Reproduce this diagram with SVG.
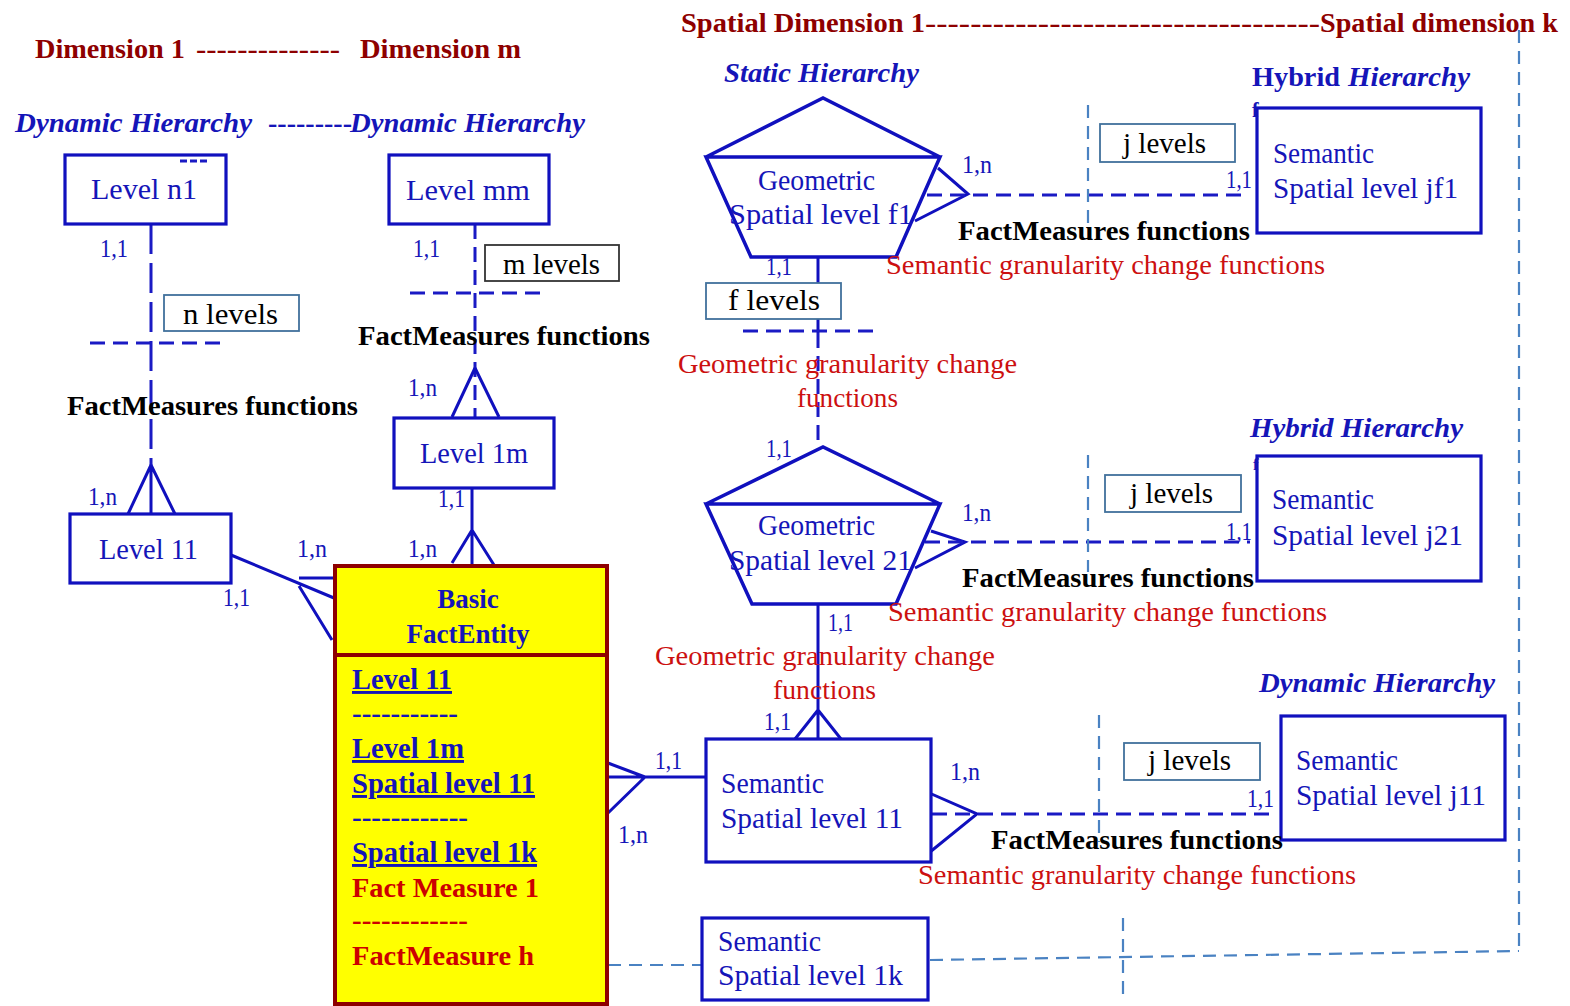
<svg xmlns="http://www.w3.org/2000/svg" width="1570" height="1006" viewBox="0 0 1570 1006">
  <style>
    text { font-family: "Liberation Serif", "Times New Roman", serif; }
    .box { fill: #ffffff; stroke: #1010BE; stroke-width: 3.2; }
    .geo { fill: #ffffff; stroke: #1010BE; stroke-width: 3.5; stroke-linejoin: miter; }
    .note { fill: #ffffff; stroke: #41719C; stroke-width: 1.8; }
    .noteK { fill: #ffffff; stroke: #333333; stroke-width: 1.8; }
    .solid { fill: none; stroke: #1010BE; stroke-width: 3; }
    .dash { fill: none; stroke: #1a1ac4; stroke-width: 3; stroke-dasharray: 15 8; }
    .dashL { fill: none; stroke: #1a1ac4; stroke-width: 3; stroke-dasharray: 30 9; }
    .steel { fill: none; stroke: #4A82C2; stroke-width: 2.2; stroke-dasharray: 13 8; }
    .title { font-size: 28px; font-weight: bold; fill: #8E0000; }
    .hier { font-size: 27px; font-weight: bold; font-style: italic; fill: #1515B8; }
    .hierN { font-style: normal; }
    .lvl { font-size: 29px; fill: #1515B8; }
    .card { font-size: 26px; fill: #1515B8; }
    .fm { font-size: 28px; font-weight: bold; fill: #000000; }
    .gran { font-size: 27px; fill: #CC1010; }
    .cnt { font-size: 29px; fill: #000000; }
    .fact { fill: #FFFF00; stroke: #8E0000; stroke-width: 4; }
    .fhead { font-size: 27px; font-weight: bold; fill: #1515B8; }
    .fkey { font-size: 29px; font-weight: bold; fill: #1515B8; text-decoration: underline; }
    .fmeas { font-size: 28px; font-weight: bold; fill: #CC0000; }
  </style>

  <!-- headings -->
  <g id="headings">
    <text class="title" y="58"><tspan x="35" textLength="150" lengthAdjust="spacingAndGlyphs">Dimension 1</tspan><tspan x="196" textLength="144" lengthAdjust="spacingAndGlyphs">--------------</tspan><tspan x="360" textLength="161" lengthAdjust="spacingAndGlyphs">Dimension m</tspan></text>
    <text class="title" y="32"><tspan x="681" textLength="244" lengthAdjust="spacingAndGlyphs">Spatial Dimension 1</tspan><tspan x="925" textLength="395" lengthAdjust="spacingAndGlyphs">-----------------------------------</tspan><tspan x="1320" textLength="238" lengthAdjust="spacingAndGlyphs">Spatial dimension k</tspan></text>
    <text class="hier" y="132"><tspan x="15" textLength="237" lengthAdjust="spacingAndGlyphs">Dynamic Hierarchy</tspan><tspan x="268" class="hierN" textLength="84" lengthAdjust="spacingAndGlyphs">---------</tspan><tspan x="350" textLength="235" lengthAdjust="spacingAndGlyphs">Dynamic Hierarchy</tspan></text>
    <text class="hier" x="724" y="82" textLength="195" lengthAdjust="spacingAndGlyphs">Static Hierarchy</text>
    <text class="hier" y="86"><tspan x="1252" class="hierN" textLength="88" lengthAdjust="spacingAndGlyphs">Hybrid</tspan><tspan x="1348" textLength="122" lengthAdjust="spacingAndGlyphs">Hierarchy</tspan></text>
    <text class="hier" x="1250" y="437" textLength="213" lengthAdjust="spacingAndGlyphs">Hybrid Hierarchy</text>
    <text class="hier" x="1259" y="692" textLength="236" lengthAdjust="spacingAndGlyphs">Dynamic Hierarchy</text>
  </g>

  <!-- connectors -->
  <g id="connectors">
    <!-- dimension 1 chain -->
    <path class="dashL" d="M151 224 V465"/>
    <path class="dash" d="M90 343 H226"/>
    <path class="solid" d="M151 465 V514 M151 465 L128 514 M151 465 L175 514"/>
    <path class="solid" d="M231 555 L334 598 M299 578 H334 M299 586 L332 640"/>
    <!-- dimension m chain -->
    <path class="dash" d="M475 224 V418"/>
    <path class="dash" d="M410 293 H546"/>
    <path class="solid" d="M475 368 L452 417 M475 368 L499 417"/>
    <path class="solid" d="M472 488 V565 M472 530 L452 563 M472 530 L494 565"/>
    <!-- spatial chain -->
    <path class="solid" d="M818 257 V333"/>
    <path class="dash" d="M818 333 V447"/>
    <path class="dash" d="M743 331 H878"/>
    <path class="solid" d="M818 604 V739 M818 710 L795 739 M818 710 L841 739"/>
    <path class="solid" d="M608 777 H705 M608 763 L645 777 M608 813 L645 777"/>
    <!-- fact measures links to the right -->
    <path class="solid" d="M938 168 L968 194 L915 221"/>
    <path class="dash" d="M927 195 H1249"/>
    <path class="solid" d="M931 531 L965 542 L915 568"/>
    <path class="dash" d="M925 542 H1250"/>
    <path class="solid" d="M927 792 L977 814 L930 852"/>
    <path class="dash" d="M932 814 H1275"/>
    <!-- level separators and dimension frame -->
    <path class="steel" d="M1088 105 V228"/>
    <path class="steel" d="M1088 455 V572"/>
    <path class="steel" d="M1099 715 V842"/>
    <path class="steel" d="M1519 30 V951"/>
    <path class="steel" d="M930 960 L1519 951"/>
    <path class="steel" d="M1123 918 V1002"/>
    <path class="steel" d="M608 965 H705"/>
  </g>

  <!-- dimension 1 nodes -->
  <g id="level-n1">
    <rect class="box" x="65" y="155" width="161" height="69"/>
    <path d="M180 161 H208" fill="none" stroke="#1a1ac4" stroke-width="3" stroke-dasharray="7 3"/>
    <text class="lvl" x="91" y="199" textLength="106" lengthAdjust="spacingAndGlyphs">Level  n1</text>
  </g>
  <g id="n-levels">
    <rect class="note" x="164" y="295" width="135" height="36"/>
    <text class="cnt" x="183" y="324" textLength="95" lengthAdjust="spacingAndGlyphs">n  levels</text>
  </g>
  <g id="level-11">
    <rect class="box" x="70" y="514" width="161" height="69"/>
    <text class="lvl" x="99" y="559" textLength="99" lengthAdjust="spacingAndGlyphs">Level 11</text>
  </g>

  <!-- dimension m nodes -->
  <g id="level-mm">
    <rect class="box" x="389" y="155" width="160" height="69"/>
    <text class="lvl" x="406" y="200" textLength="124" lengthAdjust="spacingAndGlyphs">Level  mm</text>
  </g>
  <g id="m-levels">
    <rect class="noteK" x="485" y="245" width="134" height="36"/>
    <text class="cnt" x="503" y="274" textLength="97" lengthAdjust="spacingAndGlyphs">m levels</text>
  </g>
  <g id="level-1m">
    <rect class="box" x="394" y="418" width="160" height="70"/>
    <text class="lvl" x="420" y="463" textLength="108" lengthAdjust="spacingAndGlyphs">Level 1m</text>
  </g>

  <!-- fact entity -->
  <g id="basic-fact-entity">
    <rect class="fact" x="335" y="566" width="272" height="438"/>
    <line x1="335" y1="655" x2="607" y2="655" stroke="#8E0000" stroke-width="4"/>
    <text class="fhead" x="468" y="608" text-anchor="middle">Basic</text>
    <text class="fhead" x="468" y="643" text-anchor="middle">FactEntity</text>
    <text class="fkey" x="352" y="689" textLength="100" lengthAdjust="spacingAndGlyphs">Level 11</text>
    <text class="fhead" x="352" y="722" textLength="106" lengthAdjust="spacingAndGlyphs">-----------</text>
    <text class="fkey" x="352" y="758" textLength="112" lengthAdjust="spacingAndGlyphs">Level 1m</text>
    <text class="fkey" x="352" y="793" textLength="183" lengthAdjust="spacingAndGlyphs">Spatial level 11</text>
    <text class="fhead" x="352" y="826" textLength="116" lengthAdjust="spacingAndGlyphs">------------</text>
    <text class="fkey" x="352" y="862" textLength="185" lengthAdjust="spacingAndGlyphs">Spatial level 1k</text>
    <text class="fmeas" x="352" y="897" textLength="187" lengthAdjust="spacingAndGlyphs">Fact Measure 1</text>
    <text class="fmeas" x="352" y="929" textLength="116" lengthAdjust="spacingAndGlyphs">------------</text>
    <text class="fmeas" x="352" y="965" textLength="182" lengthAdjust="spacingAndGlyphs">FactMeasure  h</text>
  </g>

  <!-- static hierarchy -->
  <g id="geometric-f1">
    <path class="geo" d="M706 157 L823 98 L940 157 Z M706 157 L940 157 L896 257 L751 257 Z"/>
    <text class="lvl" x="758" y="190" textLength="117" lengthAdjust="spacingAndGlyphs">Geometric</text>
    <text class="lvl" x="729" y="224" textLength="184" lengthAdjust="spacingAndGlyphs">Spatial  level  f1</text>
  </g>
  <g id="f-levels">
    <rect class="note" x="706" y="283" width="135" height="36"/>
    <text class="cnt" x="728" y="310" textLength="92" lengthAdjust="spacingAndGlyphs">f  levels</text>
  </g>
  <g id="geometric-21">
    <path class="geo" d="M706 504 L823 447 L940 504 Z M706 504 L940 504 L896 604 L752 604 Z"/>
    <text class="lvl" x="758" y="535" textLength="117" lengthAdjust="spacingAndGlyphs">Geometric</text>
    <text class="lvl" x="729" y="570" textLength="183" lengthAdjust="spacingAndGlyphs">Spatial   level 21</text>
  </g>
  <g id="semantic-11">
    <rect class="box" x="706" y="739" width="225" height="123"/>
    <text class="lvl" x="721" y="793" textLength="103" lengthAdjust="spacingAndGlyphs">Semantic</text>
    <text class="lvl" x="721" y="828" textLength="182" lengthAdjust="spacingAndGlyphs">Spatial level   11</text>
  </g>
  <g id="semantic-1k">
    <rect class="box" x="702" y="918" width="226" height="82"/>
    <text class="lvl" x="718" y="951" textLength="103" lengthAdjust="spacingAndGlyphs">Semantic</text>
    <text class="lvl" x="718" y="985" textLength="185" lengthAdjust="spacingAndGlyphs">Spatial level   1k</text>
  </g>

  <!-- hybrid hierarchy, first row -->
  <g id="j-levels-1">
    <rect class="note" x="1100" y="124" width="135" height="38"/>
    <text class="cnt" x="1123" y="153" textLength="83" lengthAdjust="spacingAndGlyphs">j levels</text>
  </g>
  <g id="semantic-jf1">
    <rect class="box" x="1257" y="108" width="224" height="125"/>
    <text class="lvl" x="1273" y="163" textLength="101" lengthAdjust="spacingAndGlyphs">Semantic</text>
    <text class="lvl" x="1273" y="198" textLength="185" lengthAdjust="spacingAndGlyphs">Spatial level  jf1</text>
    <text x="1252" y="117" font-size="20" font-weight="bold" fill="#1515B8">f</text>
  </g>

  <!-- hybrid hierarchy, second row -->
  <g id="j-levels-2">
    <rect class="note" x="1105" y="475" width="136" height="37"/>
    <text class="cnt" x="1130" y="503" textLength="83" lengthAdjust="spacingAndGlyphs">j levels</text>
  </g>
  <g id="semantic-j21">
    <rect class="box" x="1257" y="456" width="224" height="125"/>
    <text class="lvl" x="1272" y="509" textLength="102" lengthAdjust="spacingAndGlyphs">Semantic</text>
    <text class="lvl" x="1272" y="545" textLength="191" lengthAdjust="spacingAndGlyphs">Spatial level  j21</text>
    <text x="1253" y="470" font-size="17" font-weight="bold" fill="#1515B8">f</text>
  </g>

  <!-- dynamic hierarchy on the spatial side -->
  <g id="j-levels-3">
    <rect class="note" x="1124" y="743" width="136" height="37"/>
    <text class="cnt" x="1148" y="770" textLength="83" lengthAdjust="spacingAndGlyphs">j levels</text>
  </g>
  <g id="semantic-j11">
    <rect class="box" x="1281" y="716" width="224" height="124"/>
    <text class="lvl" x="1296" y="770" textLength="102" lengthAdjust="spacingAndGlyphs">Semantic</text>
    <text class="lvl" x="1296" y="805" textLength="190" lengthAdjust="spacingAndGlyphs">Spatial level  j11</text>
  </g>

  <!-- function captions -->
  <g id="captions">
    <text class="fm" x="358" y="345" textLength="292" lengthAdjust="spacingAndGlyphs">FactMeasures  functions</text>
    <text class="fm" x="67" y="415" textLength="291" lengthAdjust="spacingAndGlyphs">FactMeasures  functions</text>
    <text class="fm" x="958" y="240" textLength="292" lengthAdjust="spacingAndGlyphs">FactMeasures  functions</text>
    <text class="gran" x="886" y="274" textLength="439" lengthAdjust="spacingAndGlyphs">Semantic  granularity  change  functions</text>
    <text class="gran" x="678" y="373" textLength="339" lengthAdjust="spacingAndGlyphs">Geometric  granularity  change</text>
    <text class="gran" x="797" y="407" textLength="101" lengthAdjust="spacingAndGlyphs">functions</text>
    <text class="fm" x="962" y="587" textLength="292" lengthAdjust="spacingAndGlyphs">FactMeasures  functions</text>
    <text class="gran" x="888" y="621" textLength="439" lengthAdjust="spacingAndGlyphs">Semantic  granularity  change  functions</text>
    <text class="gran" x="655" y="665" textLength="340" lengthAdjust="spacingAndGlyphs">Geometric  granularity  change</text>
    <text class="gran" x="773" y="699" textLength="103" lengthAdjust="spacingAndGlyphs">functions</text>
    <text class="fm" x="991" y="849" textLength="292" lengthAdjust="spacingAndGlyphs">FactMeasures  functions</text>
    <text class="gran" x="918" y="884" textLength="438" lengthAdjust="spacingAndGlyphs">Semantic  granularity  change  functions</text>
  </g>

  <!-- cardinalities -->
  <g id="cardinalities">
    <text class="card" x="100" y="257" textLength="28" lengthAdjust="spacingAndGlyphs">1,1</text>
    <text class="card" x="413" y="257" textLength="27" lengthAdjust="spacingAndGlyphs">1,1</text>
    <text class="card" x="408" y="396" textLength="29" lengthAdjust="spacingAndGlyphs">1,n</text>
    <text class="card" x="88" y="505" textLength="29" lengthAdjust="spacingAndGlyphs">1,n</text>
    <text class="card" x="438" y="507" textLength="27" lengthAdjust="spacingAndGlyphs">1,1</text>
    <text class="card" x="297" y="557" textLength="30" lengthAdjust="spacingAndGlyphs">1,n</text>
    <text class="card" x="408" y="557" textLength="29" lengthAdjust="spacingAndGlyphs">1,n</text>
    <text class="card" x="223" y="606" textLength="27" lengthAdjust="spacingAndGlyphs">1,1</text>
    <text class="card" x="655" y="769" textLength="27" lengthAdjust="spacingAndGlyphs">1,1</text>
    <text class="card" x="618" y="843" textLength="30" lengthAdjust="spacingAndGlyphs">1,n</text>
    <text class="card" x="962" y="173" textLength="30" lengthAdjust="spacingAndGlyphs">1,n</text>
    <text class="card" x="766" y="275" textLength="26" lengthAdjust="spacingAndGlyphs">1,1</text>
    <text class="card" x="766" y="457" textLength="26" lengthAdjust="spacingAndGlyphs">1,1</text>
    <text class="card" x="1226" y="188" textLength="26" lengthAdjust="spacingAndGlyphs">1,1</text>
    <text class="card" x="962" y="521" textLength="29" lengthAdjust="spacingAndGlyphs">1,n</text>
    <text class="card" x="1226" y="540" textLength="26" lengthAdjust="spacingAndGlyphs">1,1</text>
    <text class="card" x="828" y="631" textLength="25" lengthAdjust="spacingAndGlyphs">1,1</text>
    <text class="card" x="764" y="730" textLength="27" lengthAdjust="spacingAndGlyphs">1,1</text>
    <text class="card" x="950" y="780" textLength="30" lengthAdjust="spacingAndGlyphs">1,n</text>
    <text class="card" x="1247" y="807" textLength="27" lengthAdjust="spacingAndGlyphs">1,1</text>
  </g>
</svg>
